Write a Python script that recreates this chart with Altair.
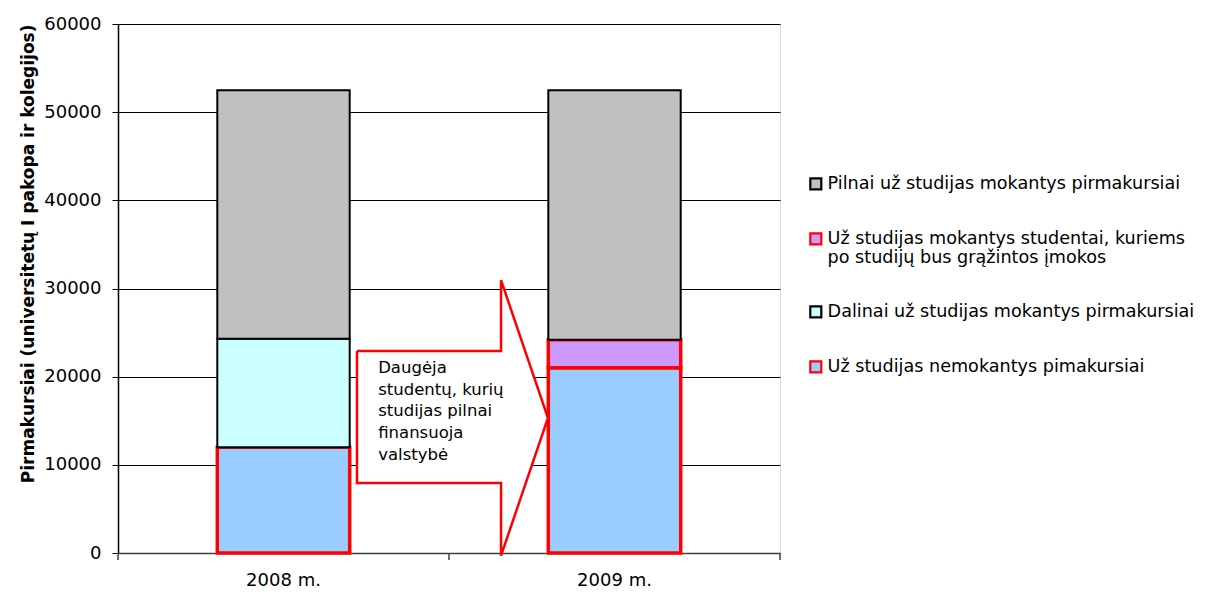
import altair as alt
import pandas as pd

# ---- data ----
years = ["2008 m.", "2009 m."]
s_gray = "Pilnai už studijas mokantys pirmakursiai"
s_purple = "Už studijas mokantys studentai, kuriems|po studijų bus grąžintos įmokos"
s_cyan = "Dalinai už studijas mokantys pirmakursiai"
s_blue = "Už studijas nemokantys pimakursiai"

blue_vals = [12000, 21000]
cyan_vals = [12300, 0]
purple_vals = [0, 3200]
gray_vals = [28200, 28300]

series_order = [s_gray, s_purple, s_cyan, s_blue]          # legend order
stack_rank = {s_blue: 0, s_cyan: 1, s_purple: 2, s_gray: 3}  # bottom -> top
fill_colors = ["#C0C0C0", "#CC99FF", "#CCFFFF", "#99CCFF"]
stroke_colors = ["#000000", "#FF0000", "#000000", "#FF0000"]

# annotation arrow (x as fraction of plot width, y in data units)
arrow_x = [0.361, 0.5786, 0.5786, 0.6495, 0.5786, 0.5786, 0.361, 0.361]
arrow_y = [22900, 22900, 30960, 15310, -300, 7940, 7940, 22900]
arrow_text = "Daugėja\nstudentų, kurių\nstudijas pilnai\nfinansuoja\nvalstybė"
arrow_text_pos = (0.393, 21900)
x_tick_pos = [0.0, 0.5, 1.0]

rows = []
for i, yr in enumerate(years):
    for s, vals in [(s_blue, blue_vals), (s_cyan, cyan_vals), (s_purple, purple_vals), (s_gray, gray_vals)]:
        rows.append({"year": yr, "series": s, "value": vals[i], "rank": stack_rank[s]})
df = pd.DataFrame(rows)

arrow_df = pd.DataFrame({"x": arrow_x, "y": arrow_y, "i": list(range(len(arrow_x)))})
text_df = pd.DataFrame({"x": [arrow_text_pos[0]], "y": [arrow_text_pos[1]], "t": [arrow_text]})
tick_df = pd.DataFrame({"x": x_tick_pos})

FONT = "DejaVu Sans"
W, H = 662, 529

yscale = alt.Scale(domain=[0, 60000], nice=False)
fscale = alt.Scale(domain=[0, 1], nice=False, zero=False)

legend = alt.Legend(title=None, orient="none", legendX=689, legendY=151,
                    labelFont=FONT, labelFontSize=17.6, labelColor="black",
                    labelLimit=600, symbolType="square", symbolSize=121,
                    symbolStrokeWidth=2.2, rowPadding=34, labelOffset=3,
                    labelExpr="split(datum.label, '|')")

bars = alt.Chart(df).transform_filter("datum.value > 0").mark_bar().encode(
    x=alt.X("year:N", title=None, sort=years,
            scale=alt.Scale(paddingInner=0.6, paddingOuter=0.3),
            axis=alt.Axis(labelAngle=0, labelFontSize=18, labelFont=FONT, labelColor="black",
                          ticks=False, domainColor="#404040", domainWidth=1.5, labelPadding=18)),
    y=alt.Y("value:Q", stack="zero", scale=yscale,
            title="Pirmakursiai (universitetų I pakopa ir kolegijos)",
            axis=alt.Axis(values=[0, 10000, 20000, 30000, 40000, 50000, 60000], format="d",
                          labelFontSize=18, labelFont=FONT, labelColor="black",
                          titleFont=FONT, titleFontSize=17, titleFontWeight="bold",
                          titleColor="black", titlePadding=6, titleAnchor="end",
                          tickSize=6, tickColor="black", labelPadding=11,
                          domainColor="black", domainWidth=1.5,
                          grid=True, gridColor="black", gridWidth=1)),
    fill=alt.Fill("series:N", scale=alt.Scale(domain=series_order, range=fill_colors), legend=legend),
    stroke=alt.Stroke("series:N", scale=alt.Scale(domain=series_order, range=stroke_colors), legend=legend),
    strokeWidth=alt.condition(alt.FieldOneOfPredicate(field="series", oneOf=[s_purple, s_blue]),
                              alt.value(3.5), alt.value(2)),
    order=alt.Order("rank:Q", sort="ascending"),
)

arrow = alt.Chart(arrow_df).mark_line(stroke="#FF0000", strokeWidth=2.5, fill="white",
                                      strokeJoin="miter").encode(
    x=alt.X("x:Q", scale=fscale, axis=None),
    y=alt.Y("y:Q", scale=yscale),
    order=alt.Order("i:Q"),
)

label = alt.Chart(text_df).mark_text(align="left", baseline="top", font=FONT, fontSize=16.5,
                                     lineBreak="\n", lineHeight=21.7, color="black").encode(
    x=alt.X("x:Q", scale=fscale, axis=None),
    y=alt.Y("y:Q", scale=yscale),
    text="t:N",
)

ticks = alt.Chart(tick_df).mark_rule(color="#404040", strokeWidth=1.5).encode(
    x=alt.X("x:Q", scale=fscale, axis=None),
    y=alt.value(H),
    y2=alt.value(H + 7),
)

chart = alt.layer(bars, arrow, label, ticks).resolve_scale(x="independent").properties(
    width=W, height=H,
    autosize=alt.AutoSizeParams(type="none"),
    padding={"left": 110, "top": 16, "right": 432, "bottom": 42},
).configure_view(stroke="#808080", strokeWidth=1.5).configure(background="white")

chart.save("out.html", embed_options={"renderer": "svg", "actions": False})
